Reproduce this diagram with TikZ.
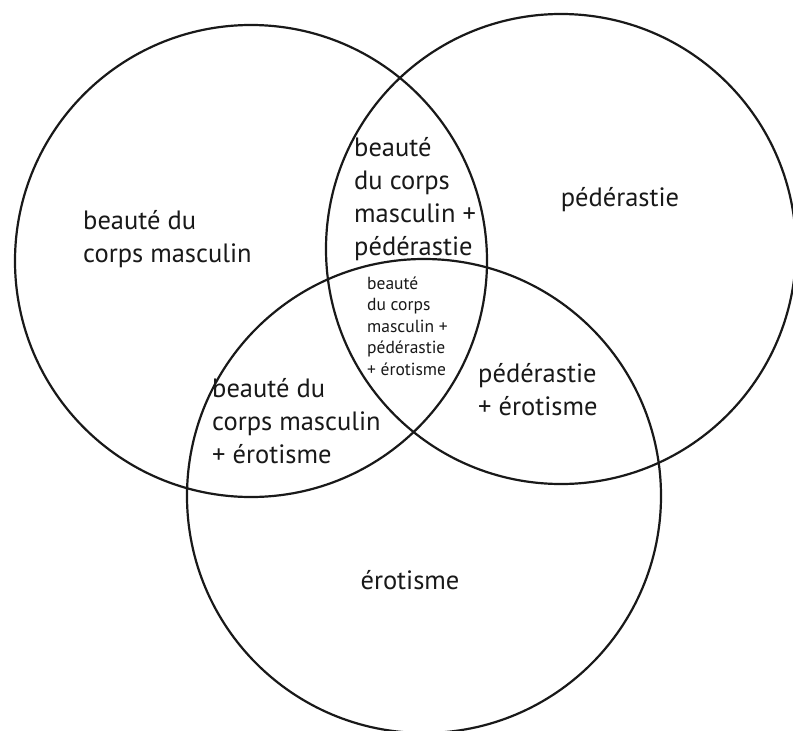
\documentclass[tikz,border=0pt]{standalone}
\usepackage{fontspec}
\setmainfont{PT Sans}
\begin{document}
\begin{tikzpicture}[x=1pt,y=-1pt,
  ring/.style={draw=black!90,line width=2.2pt},
  big/.style={font=\fontsize{26.5}{33}\selectfont,align=left,inner sep=0pt,text=black!90},
  small/.style={font=\fontsize{17.5}{21.5}\selectfont,align=left,inner sep=0pt,text=black!90}]
\useasboundingbox (0,0) rectangle (793,731);
\fill[white] (0,0) rectangle (793,731);
\node[ring,circle,minimum size=472pt,inner sep=0pt] (c1) at (251,261) {};
\node[ring,circle,minimum size=470pt,inner sep=0pt] (c2) at (561,249) {};
\node[ring,circle,minimum size=474pt,inner sep=0pt] (c3) at (424,496) {};
\node[big,anchor=west] (a) at (83,239) {beauté du\\corps masculin};
\node[big] (b) at (620,200) {pédérastie};
\node[big,anchor=west] (ab) at (354,199) {beauté\\du corps\\masculin +\\pédérastie};
\node[small,anchor=west] (abc) at (367,326) {beauté\\du corps\\masculin +\\pédérastie\\+ érotisme};
\node[big,anchor=west] (bc) at (478,390) {pédérastie\\+ érotisme};
\node[big,anchor=west] (ac) at (212,421) {beauté du\\corps masculin\\+ érotisme};
\node[big] (c) at (410,580) {érotisme};
\end{tikzpicture}
\end{document}
